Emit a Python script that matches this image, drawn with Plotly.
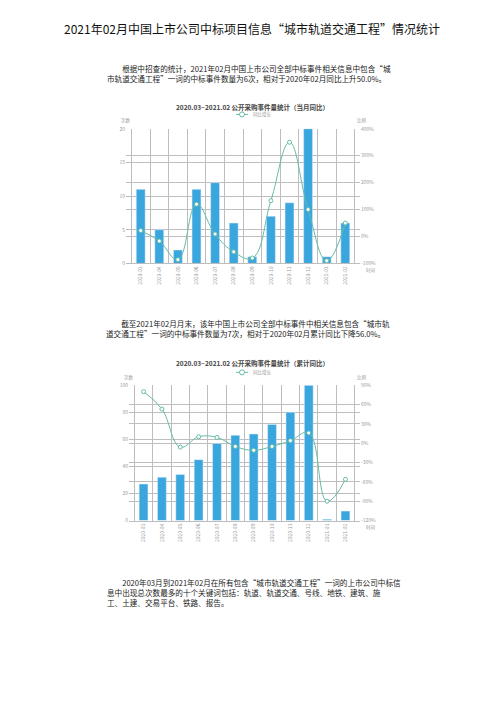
import plotly.graph_objects as go

months = ["2020-03", "2020-04", "2020-05", "2020-06", "2020-07", "2020-08",
          "2020-09", "2020-10", "2020-11", "2020-12", "2021-01", "2021-02"]
monthly_count = [11, 5, 2, 11, 12, 6, 1, 7, 9, 20, 1, 6]
monthly_yoy = [22, -17, -86, 120, 9, -57, -80, 133, 350, 100, -90, 50]
cum_count = [27, 32, 34, 45, 57, 63, 64, 71, 80, 100, 1, 7]
cum_yoy = [80, 53, -6, 10, 9, -5, -11, -5, 4, 16, -90, -56]

left1_ticks = [0, 5, 10, 15, 20]
right1_ticks = [-100, 0, 100, 200, 300, 400]
left2_ticks = [0, 20, 40, 60, 80, 100]
right2_ticks = [-120, -90, -60, -30, 0, 30, 60, 90]

W, H = 504, 713
BAR = "#3aa6de"
LINE = "#66bba6"
GRID = "#bdbdbd"
TICK = "#9a9a9a"
FONT = "Noto Sans CJK SC"


def px(x):
    return x / W


def py(y):
    return 1 - y / H


fig = go.Figure()

fig.add_trace(go.Bar(x=months, y=monthly_count, marker_color=BAR, width=0.48,
                     xaxis="x", yaxis="y", showlegend=False))
fig.add_trace(go.Scatter(x=months, y=monthly_yoy, mode="lines+markers",
                         line=dict(color=LINE, width=1, shape="spline", smoothing=1.2),
                         marker=dict(size=4, color="white", line=dict(color=LINE, width=1)),
                         xaxis="x", yaxis="y2", showlegend=False))
fig.add_trace(go.Bar(x=months, y=cum_count, marker_color=BAR, width=0.48,
                     xaxis="x2", yaxis="y3", showlegend=False))
fig.add_trace(go.Scatter(x=months, y=cum_yoy, mode="lines+markers",
                         line=dict(color=LINE, width=1, shape="spline", smoothing=1.2),
                         marker=dict(size=4, color="white", line=dict(color=LINE, width=1)),
                         xaxis="x2", yaxis="y4", showlegend=False))

tickfont = dict(family=FONT, size=5, color=TICK)

xcommon = dict(type="category", tickson="boundaries", showgrid=True, gridcolor=GRID,
               gridwidth=1, showline=True, linecolor=GRID, tickangle=-90,
               tickfont=tickfont, ticks="", fixedrange=True)
ycommon = dict(showgrid=True, gridcolor=GRID, gridwidth=1, zeroline=False,
               showline=False, tickfont=tickfont, ticks="")


def pct(vals):
    return [f"{v}%" for v in vals]


c1x = [px(126), px(360)]
c1y = [py(262), py(126)]
c2x = [px(129), px(360)]
c2y = [py(521.7), py(385)]

fig.update_layout(
    width=W, height=H, margin=dict(l=0, r=0, t=0, b=0),
    paper_bgcolor="white", plot_bgcolor="white",
    font=dict(family=FONT, color="#222"),
    xaxis=dict(domain=c1x, anchor="y", **xcommon),
    yaxis=dict(domain=c1y, anchor="x", range=[0, 20], tickvals=left1_ticks, **ycommon),
    yaxis2=dict(overlaying="y", side="right", anchor="x", range=[-100, 400],
                tickvals=right1_ticks, ticktext=pct(right1_ticks), **ycommon),
    xaxis2=dict(domain=c2x, anchor="y3", **xcommon),
    yaxis3=dict(domain=c2y, anchor="x2", range=[0, 100], tickvals=left2_ticks, **ycommon),
    yaxis4=dict(overlaying="y3", side="right", anchor="x2", range=[-120, 90],
                tickvals=right2_ticks, ticktext=pct(right2_ticks), **ycommon),
)

ann = []


def text(x, y, s, size=8, anchor="left", color="#222", align="left"):
    ann.append(dict(x=px(x), y=py(y), xref="paper", yref="paper", text=s, showarrow=False,
                    xanchor=anchor, yanchor="middle", align=align,
                    font=dict(size=size, color=color, family=FONT)))


IND = "\u3000\u3000"
text(252, 25, "2021年02月中国上市公司中标项目信息“城市轨道交通工程”情况统计", size=12, anchor="center", color="#111")

text(105, 70.5, IND + "根据中招查的统计，2021年02月中国上市公司全部中标事件相关信息中包含“城<br>"
     "市轨道交通工程”一词的中标事件数量为6次，相对于2020年02月同比上升50.0%。", size=7.6)

text(104, 328, IND + "截至2021年02月月末，该年中国上市公司全部中标事件中相关信息包含“城市轨<br>"
     "道交通工程”一词的中标事件数量为7次，相对于2020年02月累计同比下降56.0%。", size=7.6)

text(105, 594, IND + "2020年03月到2021年02月在所有包含“城市轨道交通工程”一词的上市公司中标信<br>"
     "息中出现总次数最多的十个关键词包括：轨道、轨道交通、号线、地铁、建筑、施<br>"
     "工、土建、交易平台、铁路、报告。", size=7.6)

text(252, 104, "<b>2020.03~2021.02 公开采购事件量统计（当月同比）</b>", size=6.5, anchor="center", color="#444")
text(252, 363, "<b>2020.03~2021.02 公开采购事件量统计（累计同比）</b>", size=6.5, anchor="center", color="#444")
for ly in (111.5, 372):
    text(251, ly, "同比增长", size=4.5, anchor="left", color=TICK)

text(126, 118, "次数", size=4.5, anchor="center", color=TICK)
text(362, 118, "比例", size=4.5, anchor="center", color=TICK)
text(371, 269, "时间", size=4.5, anchor="center", color=TICK)
text(129, 377, "次数", size=4.5, anchor="center", color=TICK)
text(362, 377, "比例", size=4.5, anchor="center", color=TICK)
text(371, 528.5, "时间", size=4.5, anchor="center", color=TICK)

fig.update_layout(annotations=ann)

shapes = []
for ly in (111.5, 372):
    shapes.append(dict(type="line", xref="paper", yref="paper", x0=px(236), x1=px(248),
                       y0=py(ly), y1=py(ly), line=dict(color=LINE, width=1)))
    shapes.append(dict(type="circle", xref="paper", yref="paper", x0=px(239.5), x1=px(244.5),
                       y0=py(ly + 2.5), y1=py(ly - 2.5), line=dict(color=LINE, width=1),
                       fillcolor="white"))
fig.update_layout(shapes=shapes)

fig.write_html("out.html")
